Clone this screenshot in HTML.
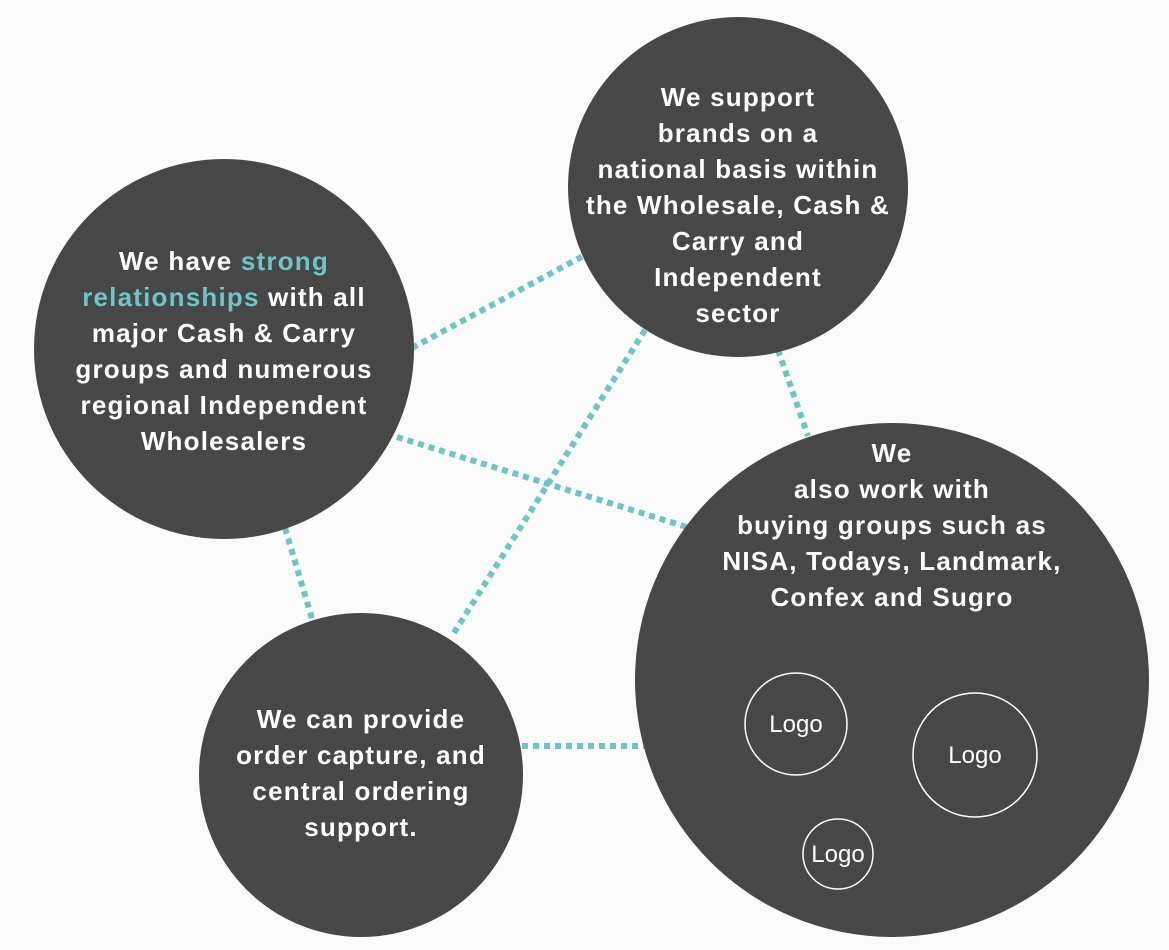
<!DOCTYPE html>
<html><head><style>
body{margin:0;width:1169px;height:950px;background:#fbfbfb;overflow:hidden}
svg{position:absolute;left:0;top:0}
</style></head><body>
<svg width="1169" height="950" viewBox="0 0 1169 950">
<g stroke="#6cc5c6" stroke-width="6" stroke-dasharray="6 5" fill="none">
<line x1="412" y1="348" x2="585" y2="255"/>
<line x1="397" y1="437" x2="690" y2="528"/>
<line x1="285" y1="528" x2="313" y2="622"/>
<line x1="778" y1="350" x2="808" y2="436"/>
<line x1="645" y1="330" x2="452" y2="636"/>
<line x1="522" y1="746" x2="645" y2="746"/>
</g>
<g fill="#474747">
<circle cx="738" cy="187" r="170"/>
<circle cx="224" cy="349" r="190"/>
<circle cx="361" cy="775" r="162"/>
<circle cx="892" cy="680" r="257"/>
</g>
<g fill="none" stroke="#fff" stroke-width="1.5">
<circle cx="796" cy="724" r="51"/>
<circle cx="975" cy="755" r="62"/>
<circle cx="838" cy="854" r="35"/>
</g>
<g font-family="Liberation Sans, sans-serif" fill="#fff" text-anchor="middle">
<g font-size="24"><text x="796" y="732">Logo</text><text x="975" y="763">Logo</text><text x="838" y="862">Logo</text></g>
<g font-size="26" font-weight="bold" letter-spacing="1.2">
<text x="738" y="106">We support</text>
<text x="738" y="142">brands on a</text>
<text x="738" y="178">national basis within</text>
<text x="738" y="214">the Wholesale, Cash &amp;</text>
<text x="738" y="250">Carry and</text>
<text x="738" y="286">Independent</text>
<text x="738" y="322">sector</text>
<text x="224" y="270">We have <tspan fill="#6cc5c6">strong</tspan></text>
<text x="224" y="306"><tspan fill="#6cc5c6">relationships</tspan> with all</text>
<text x="224" y="342">major Cash &amp; Carry</text>
<text x="224" y="378">groups and numerous</text>
<text x="224" y="414">regional Independent</text>
<text x="224" y="450">Wholesalers</text>
<text x="892" y="462">We</text>
<text x="892" y="498">also work with</text>
<text x="892" y="534">buying groups such as</text>
<text x="892" y="570">NISA, Todays, Landmark,</text>
<text x="892" y="606">Confex and Sugro</text>
<text x="361" y="728">We can provide</text>
<text x="361" y="764">order capture, and</text>
<text x="361" y="800">central ordering</text>
<text x="361" y="836">support.</text>
</g></g>
</svg>
</body></html>
